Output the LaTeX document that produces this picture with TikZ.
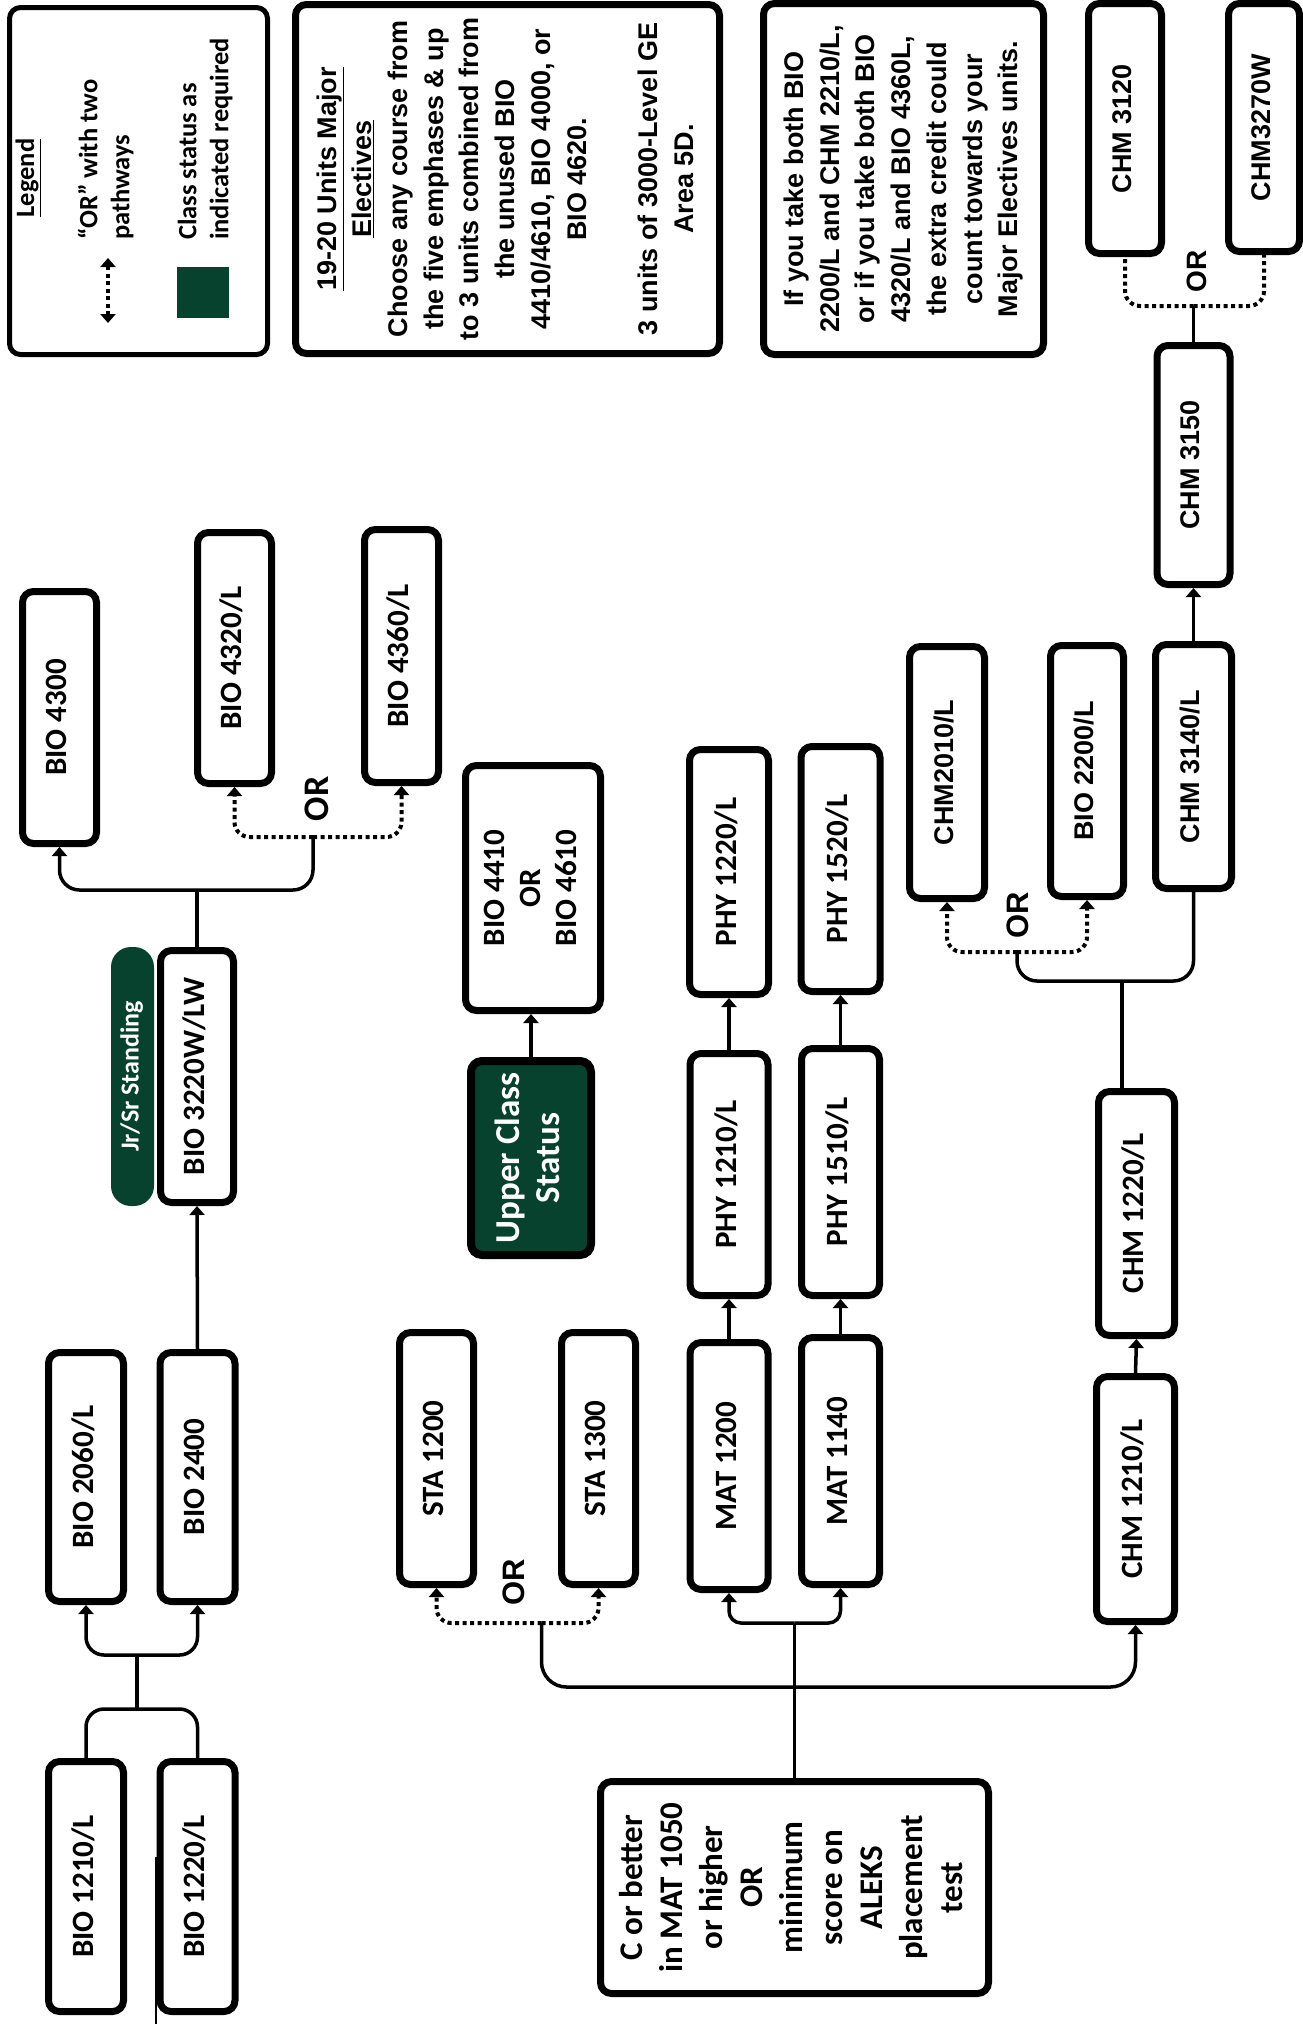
\documentclass[tikz,border=0pt]{standalone}
\usepackage{fontspec}
\usepackage{graphicx}
\usetikzlibrary{arrows.meta}
\newfontfamily\carl{Carlito}
\newfontfamily\libs{Liberation Sans}
\definecolor{dgreen}{RGB}{6,66,46}
\newcommand\RT[1]{\rotatebox{90}{\begin{tabular}{@{}c@{}}#1\end{tabular}}}
\newcommand\RL[1]{\rotatebox{90}{\begin{tabular}{@{}l@{}}#1\end{tabular}}}
\tikzset{
  box/.style={draw, line width=7pt, rounded corners=11pt, fill=white, inner sep=0pt, text=black},
  cal/.style={font=\carl\bfseries\fontsize{31}{36}\selectfont},
  ari/.style={font=\libs\bfseries\fontsize{27}{32}\selectfont},
  legf/.style={font=\carl\bfseries\fontsize{26.5}{32}\selectfont},
  orf/.style={font=\libs\bfseries\fontsize{31}{36}\selectfont},
  conn/.style={line width=3.5pt},
  dconn/.style={line width=4pt, dash pattern=on 4pt off 3.5pt},
  tip/.style={-{Triangle[width=15pt,length=9pt]}},
  ortext/.style={inner sep=0pt},
}
\begin{document}
\begin{tikzpicture}[x=1pt,y=-1pt]
\useasboundingbox (0,0) rectangle (1303,2024);

% ---------- info boxes ----------
\node[box, line width=5pt, minimum width=258, minimum height=347] (legend) at (138.5,181) {};
\node[inner sep=0pt, legf] (legt) at (28,178) {\rotatebox{90}{\underline{Legend}}};
\node[inner sep=0pt, anchor=south, legf] (legor) at (107,240) {\RL{“OR” with two\\pathways}};
\node[inner sep=0pt, anchor=south, legf] (legcl) at (206,240) {\RL{Class status as\\indicated required}};
\coordinate (la1) at (108,258);
\coordinate (la2) at (108,323);
\draw[dconn, {Triangle[width=15pt,length=9pt]}-{Triangle[width=15pt,length=9pt]}] (la1) -- (la2);
\node[fill=dgreen, minimum width=52, minimum height=51, inner sep=0pt] (legsq) at (203,292.5) {};

\node[box, minimum width=424, minimum height=349, font=\libs\bfseries\fontsize{27}{35.7}\selectfont] (elect) at (507.5,179)
 {\RT{\underline{19-20 Units Major}\\\underline{Electives}\\Choose any course from\\the five emphases \& up\\to 3 units combined from\\the unused BIO\\4410/4610, BIO 4000, or\\BIO 4620.\\ \\3 units of 3000-Level GE\\Area 5D.}};

\node[box, minimum width=280, minimum height=351, font=\libs\bfseries\fontsize{27}{35.7}\selectfont] (note) at (903.5,179)
 {\RT{If you take both BIO\\2200/L and CHM 2210/L,\\or if you take both BIO\\4320/L and BIO 4360L,\\the extra credit could\\count towards your\\Major Electives units.}};

% ---------- BIO column ----------
\node[box, cal, minimum width=74, minimum height=252] (b4300) at (59.5,717.5) {\RT{BIO 4300}};
\node[box, cal, minimum width=74, minimum height=251] (b4320) at (234.5,658) {\RT{BIO 4320/L}};
\node[box, cal, minimum width=74, minimum height=253] (b4360) at (401.5,656) {\RT{BIO 4360/L}};
\node[box, cal, minimum width=73, minimum height=252] (b3220) at (197,1076.5) {\RT{BIO 3220W/LW}};
\node[fill=dgreen, rounded corners=20pt, minimum width=43, minimum height=259, inner sep=0pt, text=white,
      font=\carl\bfseries\fontsize{26}{30}\selectfont] (jrsr) at (132.5,1076.5) {\RT{Jr/Sr Standing}};
\node[box, cal, minimum width=75, minimum height=249] (b2060) at (86,1477) {\RT{BIO 2060/L}};
\node[box, cal, minimum width=75, minimum height=249] (b2400) at (197.5,1477) {\RT{BIO 2400}};
\node[box, cal, minimum width=75, minimum height=250] (b1210) at (86,1886.5) {\RT{BIO 1210/L}};
\node[box, cal, minimum width=75, minimum height=250] (b1220) at (197.5,1886.5) {\RT{BIO 1220/L}};
\coordinate (stray1) at (155.5,1857);
\coordinate (stray2) at (155.5,2024);
\draw[line width=2pt] (stray1) -- (stray2);

% ---------- middle ----------
\node[box, cal, minimum width=135, minimum height=245] (b4410) at (533,888) {\RT{BIO 4410\\OR\\BIO 4610}};
\node[box, fill=dgreen, text=white, line width=8pt, minimum width=120, minimum height=194,
      font=\carl\bfseries\fontsize{35}{40}\selectfont] (ucs) at (531,1158) {\RT{Upper Class\\Status}};
\node[box, cal, minimum width=74, minimum height=252] (s1200) at (436.5,1458.5) {\RT{STA 1200}};
\node[box, cal, minimum width=74, minimum height=252] (s1300) at (598.5,1458.5) {\RT{STA 1300}};
\node[box, minimum width=388, minimum height=212, font=\carl\bfseries\fontsize{33}{40}\selectfont] (cbox) at (794.5,1887.5)
 {\RT{C or better\\in MAT 1050\\or higher\\OR\\minimum\\score on\\ALEKS\\placement\\test}};

\node[box, cal, minimum width=78, minimum height=247] (m1200) at (729,1466) {\RT{MAT 1200}};
\node[box, cal, minimum width=78, minimum height=247] (m1140) at (840.5,1461) {\RT{MAT 1140}};
\node[box, cal, minimum width=78, minimum height=242] (p1210) at (729,1174.5) {\RT{PHY 1210/L}};
\node[box, cal, minimum width=78, minimum height=247] (p1510) at (840.5,1172) {\RT{PHY 1510/L}};
\node[box, cal, minimum width=79, minimum height=245] (p1220) at (729,872) {\RT{PHY 1220/L}};
\node[box, cal, minimum width=79, minimum height=245] (p1520) at (840.5,869) {\RT{PHY 1520/L}};

% ---------- CHM column ----------
\node[box, ari, minimum width=75, minimum height=252] (c2010) at (947,772.5) {\RT{CHM2010/L}};
\node[box, ari, minimum width=73, minimum height=251] (b2200) at (1087,771) {\RT{BIO 2200/L}};
\node[box, ari, minimum width=76, minimum height=244] (c3140) at (1193.5,766.5) {\RT{CHM 3140/L}};
\node[box, ari, minimum width=73, minimum height=239] (c3150) at (1193.5,465) {\RT{CHM 3150}};
\node[box, ari, minimum width=73, minimum height=250] (c3120) at (1125,128.5) {\RT{CHM 3120}};
\node[box, ari, minimum width=71, minimum height=248] (c3270) at (1264,127.5) {\RT{CHM3270W}};
\node[box, cal, minimum width=76, minimum height=244] (c1220) at (1136.5,1213.5) {\RT{CHM 1220/L}};
\node[box, cal, minimum width=78, minimum height=245] (c1210) at (1135.5,1499) {\RT{CHM 1210/L}};

% ---------- connectors ----------
% BIO intro
\coordinate (jA) at (137,1709);
\coordinate (jB) at (137,1655);
\draw[conn, rounded corners=18pt] (b1210.north) |- (jA) -| (b1220.north);
\draw[conn] (jA) -- (jB);
\draw[conn, tip, rounded corners=18pt] (jB) -| (b2060.south);
\draw[conn, tip, rounded corners=18pt] (jB) -| (b2400.south);
\draw[conn, tip] (b2400.north) -- (b3220.south);
% BIO upper
\coordinate (jC) at (197,890);
\coordinate (jD) at (313,837);
\draw[conn] (b3220.north) -- (jC);
\draw[conn, tip, rounded corners=20pt] (jC) -| (b4300.south);
\draw[conn, rounded corners=20pt] (jC) -| (jD);
\draw[dconn, tip, rounded corners=15pt] (jD) -| (b4320.south);
\draw[dconn, tip, rounded corners=15pt] (jD) -| (b4360.south);
\node[ortext, font=\carl\bfseries\fontsize{36}{40}\selectfont] (or1) at (317,799) {\rotatebox{90}{OR}};
% upper class
\draw[conn, tip] (ucs.north) -- (ucs.north |- b4410.south);
% STA and CHM 1210
\coordinate (jE) at (541.5,1623);
\coordinate (jF) at (800,1687);
\draw[dconn, tip, rounded corners=15pt] (jE) -| (s1200.south);
\draw[dconn, tip, rounded corners=15pt] (jE) -| (s1300.south);
\node[ortext, orf] (or2) at (514,1582) {\rotatebox{90}{OR}};
\draw[conn, tip, rounded corners=25pt] (jE) |- (jF) -| (c1210.south);
% math
\coordinate (jG) at (794.5,1623);
\draw[conn] (cbox.north) -- (jG);
\draw[conn, tip, rounded corners=12pt] (jG) -| (m1200.south);
\draw[conn, tip, rounded corners=12pt] (jG) -| (m1140.south);
\draw[conn, tip] (m1200.north) -- (p1210.south);
\draw[conn, tip] (m1140.north) -- (p1510.south);
\draw[conn, tip] (p1210.north) -- (p1220.south);
\draw[conn, tip] (p1510.north) -- (p1520.south);
% chemistry
\draw[conn, tip] (c1210.north) -- (c1220.south);
\coordinate (jH) at (1122,981);
\coordinate (jI) at (1017,952);
\coordinate (jH0) at (1122,1089);
\draw[conn] (jH0) -- (jH);
\draw[conn, rounded corners=20pt] (jI) |- (jH) -| (c3140.south);
\draw[dconn, tip, rounded corners=15pt] (jI) -| (c2010.south);
\draw[dconn, tip, rounded corners=15pt] (jI) -| (b2200.south);
\node[ortext, orf] (or3) at (1018,915) {\rotatebox{90}{OR}};
\draw[conn, tip] (c3140.north) -- (c3150.south);
\coordinate (jJ) at (1193.5,306);
\draw[conn] (c3150.north) -- (jJ);
\draw[dconn, rounded corners=15pt] (jJ) -| (c3120.south);
\draw[dconn, rounded corners=15pt] (jJ) -| (c3270.south);
\node[ortext, font=\libs\bfseries\fontsize{28}{32}\selectfont] (or4) at (1197,271) {\rotatebox{90}{OR}};
\end{tikzpicture}
\end{document}
